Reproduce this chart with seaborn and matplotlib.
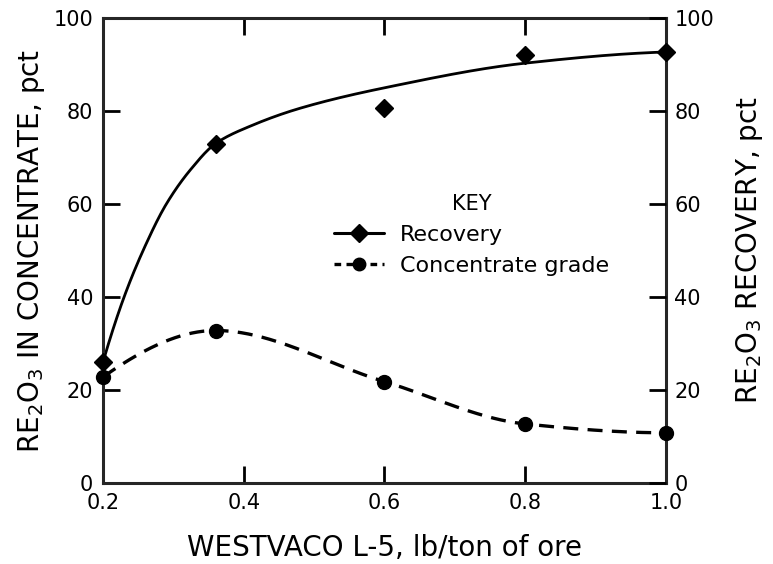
import numpy as np
import pandas as pd
import matplotlib
matplotlib.use("Agg")
import matplotlib.pyplot as plt
from matplotlib.lines import Line2D
import seaborn as sns

# ---- data ----
dosage = [0.2, 0.36, 0.6, 0.8, 1.0]            # WESTVACO L-5, lb/ton of ore
recovery = [26, 73, 80.6, 92, 92.7]           # RE2O3 recovery, pct
grade = [22.8, 32.8, 21.8, 12.7, 10.8]         # RE2O3 in concentrate, pct

# hand-drawn (fitted) recovery curve
rec_curve_x = [0.2, 0.23, 0.26, 0.29, 0.325, 0.36, 0.41, 0.48, 0.6, 0.8, 1.0]
rec_curve_y = [26, 40, 51, 60, 67.5, 73, 76.8, 80.6, 85, 90.3, 92.7]

x_ticks = [0.2, 0.4, 0.6, 0.8, 1.0]
y_ticks = [0, 20, 40, 60, 80, 100]


def pchip(x, y, xs):
    x = np.asarray(x, float); y = np.asarray(y, float)
    h = np.diff(x); d = np.diff(y) / h
    n = len(x); m = np.zeros(n)
    for k in range(1, n - 1):
        if d[k - 1] * d[k] > 0:
            w1 = 2 * h[k] + h[k - 1]; w2 = h[k] + 2 * h[k - 1]
            m[k] = (w1 + w2) / (w1 / d[k - 1] + w2 / d[k])
    m[0] = ((2 * h[0] + h[1]) * d[0] - h[0] * d[1]) / (h[0] + h[1])
    if np.sign(m[0]) != np.sign(d[0]): m[0] = 0
    m[-1] = ((2 * h[-1] + h[-2]) * d[-1] - h[-1] * d[-2]) / (h[-1] + h[-2])
    if np.sign(m[-1]) != np.sign(d[-1]): m[-1] = 0
    idx = np.clip(np.searchsorted(x, xs) - 1, 0, n - 2)
    t = (xs - x[idx]) / h[idx]
    h00 = 2*t**3 - 3*t**2 + 1; h10 = t**3 - 2*t**2 + t
    h01 = -2*t**3 + 3*t**2; h11 = t**3 - t**2
    return (h00 * y[idx] + h10 * h[idx] * m[idx] + h01 * y[idx + 1]
            + h11 * h[idx] * m[idx + 1])


sns.set_theme(style="ticks")
plt.rcParams["font.family"] = ["DejaVu Sans"]
plt.rcParams["mathtext.default"] = "regular"
plt.rcParams["text.color"] = "black"
plt.rcParams["axes.labelcolor"] = "black"

fig = plt.figure(figsize=(7.73, 5.64), dpi=100)
ax = fig.add_axes([0.1332, 0.1436, 0.7284, 0.8244])

xs = np.linspace(0.2, 1.0, 400)
curve_rec = pd.DataFrame({"x": xs, "y": pchip(rec_curve_x, rec_curve_y, xs)})
curve_grd = pd.DataFrame({"x": xs, "y": pchip(dosage, grade, xs)})
pts = pd.DataFrame({"x": dosage, "rec": recovery, "grade": grade})

sns.lineplot(data=curve_rec, x="x", y="y", ax=ax, color="black", lw=2.0,
             clip_on=False)
sns.lineplot(data=curve_grd, x="x", y="y", ax=ax, color="black", lw=2.4,
             linestyle=(0, (4.5, 2.8)), clip_on=False)
ax.plot(pts["x"], pts["rec"], linestyle="none", marker="D", ms=9,
        color="black", clip_on=False, zorder=5)
ax.plot(pts["x"], pts["grade"], linestyle="none", marker="o", ms=10,
        color="black", clip_on=False, zorder=5)

ax.set_xlim(0.2, 1.0)
ax.set_ylim(0, 100)
ax.set_xticks(x_ticks)
ax.set_xticklabels([f"{v:.1f}" for v in x_ticks])
ax.set_yticks(y_ticks)
ax.set_yticklabels([str(v) for v in y_ticks])

for s in ax.spines.values():
    s.set_linewidth(2.2)
    s.set_visible(True)

ax.tick_params(axis="both", direction="in", length=12, width=2,
               labelsize=15, top=True, right=False, pad=7, colors="black")

ax.set_xlabel("WESTVACO L-5, lb/ton of ore", fontsize=20, labelpad=15)
ax.set_ylabel("RE$_2$O$_3$ IN CONCENTRATE, pct", fontsize=20, labelpad=5)

ax2 = ax.twinx()
ax2.set_ylim(0, 100)
ax2.set_yticks(y_ticks)
ax2.set_yticklabels([str(v) for v in y_ticks])
for s in ax2.spines.values():
    s.set_visible(False)
ax2.tick_params(axis="y", direction="in", length=12, width=2,
                labelsize=15, pad=6, colors="black")
ax2.set_ylabel("RE$_2$O$_3$ RECOVERY, pct", fontsize=20, labelpad=14)

handles = [
    Line2D([], [], color="black", lw=2.2, marker="D", ms=9),
    Line2D([], [], color="black", lw=2.4, linestyle=(0, (2.0, 1.6)),
           marker="o", ms=9),
]
leg = ax.legend(handles, ["Recovery", "Concentrate grade"], title="KEY",
                loc="upper left", bbox_to_anchor=(0.375, 0.665), frameon=False,
                fontsize=16, title_fontsize=15, handlelength=2.25,
                handletextpad=0.7, labelspacing=0.5)

fig.savefig("out.png", dpi=100)
